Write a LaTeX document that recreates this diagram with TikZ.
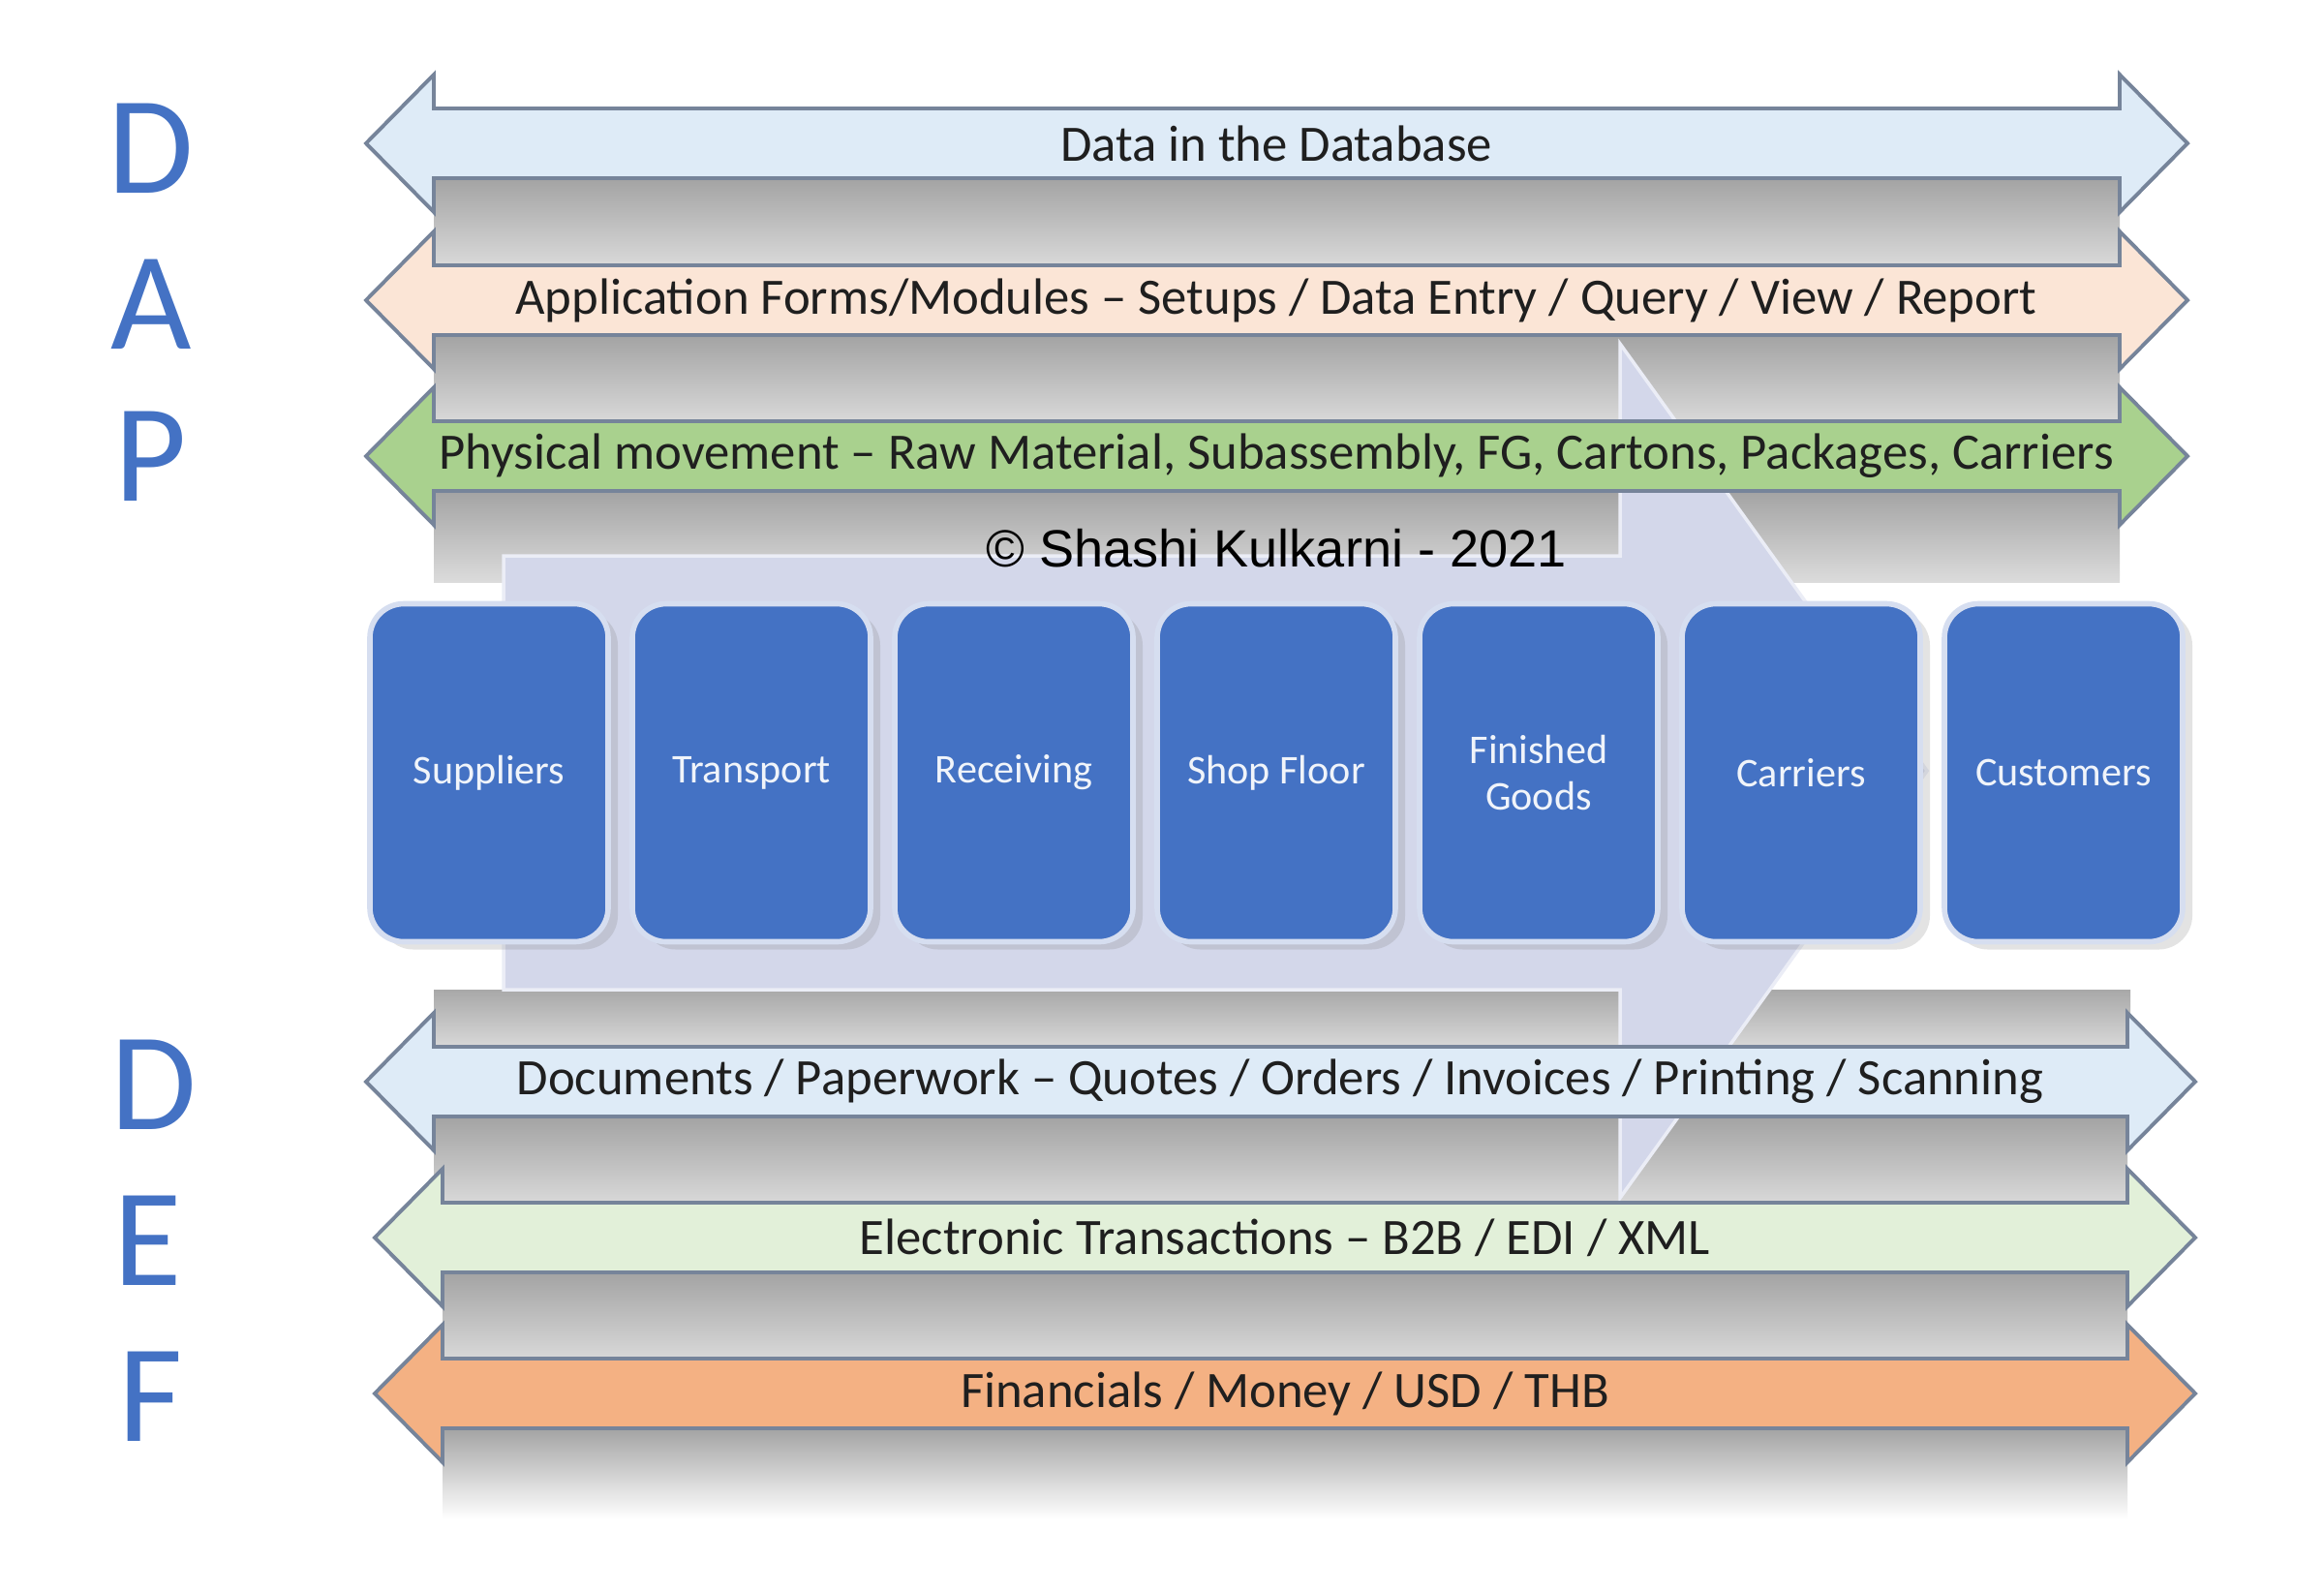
\documentclass[tikz,border=0pt]{standalone}
\usepackage{fontspec}
\setmainfont{Carlito}
\newfontfamily\arialfont{Liberation Sans}
\usetikzlibrary{positioning,shadows}

\definecolor{dbblue}{HTML}{DEEBF7}
\definecolor{apppeach}{HTML}{FBE5D6}
\definecolor{physgreen}{HTML}{A9D18E}
\definecolor{edigreen}{HTML}{E2F0D9}
\definecolor{finorange}{HTML}{F4B183}
\definecolor{bandline}{HTML}{76849A}
\definecolor{flowlav}{HTML}{D3D7EA}
\definecolor{stageblue}{HTML}{4472C4}
\definecolor{stageedge}{HTML}{D6DEF0}

% grey band under a shaft: left tip, right tip, centre y, last colour
\newcommand{\bandshadow}[4]{%
	\shade[top color=black!36, bottom color=#4] (#1+.7,#3-.36) rectangle (#2-.7,#3-1.3);}
% two-headed band: left tip, right tip, centre y, fill
\newcommand{\bandarrow}[4]{%
	\draw[band, fill=#4] (#1,#3) -- ++(.7,.71) -- ++(0,-.35) -- (#2-.7,#3+.36) -- ++(0,.35) -- (#2,#3)
		-- ++(-.7,-.71) -- ++(0,.35) -- (#1+.7,#3-.36) -- ++(0,-.35) -- cycle;}

\begin{document}
\begin{tikzpicture}[
	band/.style={draw=bandline, line width=1.1pt, line join=miter},
	bandtext/.style={inner sep=0pt, text=black!88, font=\fontsize{15}{18}\selectfont},
	stage/.style={rounded corners=0.35cm, fill=stageblue, draw=stageedge, line width=1.6pt,
		minimum width=2.46cm, minimum height=3.49cm, align=center, inner sep=2pt, outer sep=0pt,
		text=white!92!stageblue, font=\fontsize{12}{13.5}\selectfont,
		drop shadow={shadow xshift=.1cm, shadow yshift=-.08cm, opacity=.22}},
	biglet/.style={text=stageblue, font=\fontsize{41}{41}\selectfont, inner sep=0pt}]
	\useasboundingbox[fill=white] (0,0) rectangle (24,-16.41);

	% {{{ shadows first
	\bandshadow{3.78}{22.59}{-1.48}{black!14}
	\bandshadow{3.78}{22.59}{-3.10}{black!14}
	\bandshadow{3.78}{22.59}{-4.71}{black!14}
	\shade[top color=black!34, bottom color=black!14] (4.48,-10.22) rectangle (22.0,-10.85);
	\bandshadow{3.78}{22.67}{-11.17}{black!14}
	\bandshadow{3.87}{22.67}{-12.78}{black!14}
	\bandshadow{3.87}{22.67}{-14.39}{white}
	% }}}

	% big flow arrow behind the bands
	\draw[fill=flowlav, draw=white!55!flowlav, line width=1pt]
		(5.2,-5.74) -- (16.73,-5.74) -- (16.73,-3.55) -- (19.9,-7.96)
		-- (16.73,-12.37) -- (16.73,-10.22) -- (5.2,-10.22) -- cycle;

	% {{{ bands
	\bandarrow{3.78}{22.59}{-1.48}{dbblue}
	\bandarrow{3.78}{22.59}{-3.10}{apppeach}
	\bandarrow{3.78}{22.59}{-4.71}{physgreen}
	\bandarrow{3.78}{22.67}{-11.17}{dbblue}
	\bandarrow{3.87}{22.67}{-12.78}{edigreen}
	\bandarrow{3.87}{22.67}{-14.39}{finorange}
	% }}}

	\node[bandtext] (data) at (13.18,-1.48) {Data in the Database};
	\node[bandtext] (apps) at (13.18,-3.10) {Application Forms/Modules -- Setups / Data Entry / Query / View / Report};
	\node[bandtext] (phys) at (13.18,-4.71) {Physical movement -- Raw Material, Subassembly, FG, Cartons, Packages, Carriers};
	\node[bandtext] (docs) at (13.22,-11.17) {Documents / Paperwork -- Quotes / Orders / Invoices / Printing / Scanning};
	\node[bandtext] (edi) at (13.27,-12.78) {Electronic Transactions -- B2B / EDI / XML};
	\node[bandtext] (fin) at (13.27,-14.39) {Financials / Money / USD / THB};

	\node[inner sep=0pt, font=\arialfont\fontsize{15.4}{18}\selectfont] (copy) at (13.18,-5.66) {\textcopyright{} Shashi Kulkarni - 2021};

	% {{{ stages
	\node[stage] (sup) at (5.05,-7.98) {Suppliers};
	\node[stage, right=0.25cm of sup] (trn) {Transport};
	\node[stage, right=0.25cm of trn] (rcv) {Receiving};
	\node[stage, right=0.25cm of rcv] (shop) {Shop Floor};
	\node[stage, right=0.25cm of shop] (fg) {Finished\\Goods};
	\node[stage, right=0.25cm of fg] (car) {Carriers};
	\node[stage, right=0.25cm of car] (cust) {Customers};
	% }}}

	\node[biglet] (d1) at (1.56,-1.53) {D};
	\node[biglet] (a) at (1.56,-3.14) {A};
	\node[biglet] (p) at (1.56,-4.71) {P};
	\node[biglet] (d2) at (1.59,-11.20) {D};
	\node[biglet] (e) at (1.53,-12.81) {E};
	\node[biglet] (f) at (1.56,-14.42) {F};
\end{tikzpicture}
\end{document}
